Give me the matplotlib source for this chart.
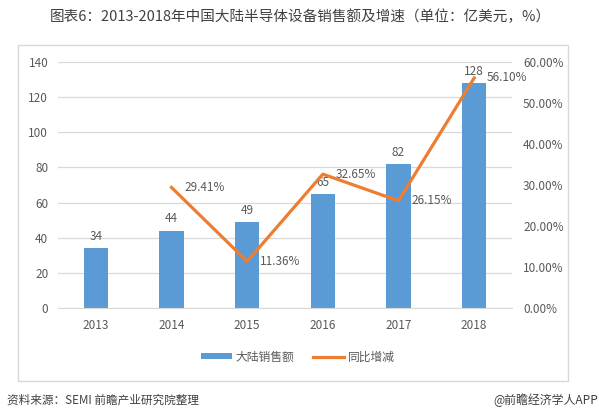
import matplotlib
matplotlib.use("Agg")
import matplotlib.pyplot as plt
from matplotlib.patches import Rectangle
from matplotlib.ticker import FuncFormatter

plt.rcParams['font.family'] = ['Noto Sans CJK SC', 'DejaVu Sans']

years = ['2013', '2014', '2015', '2016', '2017', '2018']
sales = [34, 44, 49, 65, 82, 128]
growth_years = ['2014', '2015', '2016', '2017', '2018']
growth = [29.41, 11.36, 32.65, 26.15, 56.10]

BAR = '#5B9BD5'
LINE = '#ED7D31'
TXT = '#595959'
GRID = '#D9D9D9'

fig = plt.figure(figsize=(5.99, 4.17), dpi=100)
W, H = 599, 417

# chart frame
fig.patches.append(Rectangle((18 / W, 1 - 381 / H), (568 - 18) / W, (381 - 45) / H,
                             transform=fig.transFigure, fill=False,
                             edgecolor='#D9D9D9', linewidth=1.0))

ax = fig.add_axes([58 / W, 1 - 308 / H, (512 - 58) / W, (308 - 62) / H])
x = list(range(len(years)))
bars = ax.bar(x, sales, width=0.32, color=BAR, zorder=2, label='大陆销售额')
ax.set_xlim(-0.5, len(years) - 0.5)
ax.set_ylim(0, 140)
ax.set_yticks(range(0, 141, 20))
ax.set_xticks(x)
ax.set_xticklabels(years)
ax.grid(axis='y', color=GRID, linewidth=0.9, zorder=0)
for s in ax.spines.values():
    s.set_visible(False)
ax.spines['bottom'].set_visible(True)
ax.spines['bottom'].set_color(GRID)
ax.tick_params(length=0, colors=TXT, labelsize=8.5)
ax.tick_params(axis='y', pad=7)
ax.tick_params(axis='x', pad=8)
for xi, v in zip(x, sales):
    ax.text(xi, v + 3, str(v), ha='center', va='bottom', fontsize=8.5, color=TXT)

ax2 = ax.twinx()
gx = [years.index(y) for y in growth_years]
line, = ax2.plot(gx, growth, color=LINE, linewidth=2.3, zorder=3, label='同比增减')
ax2.set_ylim(0, 60)
ax2.set_yticks(range(0, 61, 10))
ax2.yaxis.set_major_formatter(FuncFormatter(lambda v, p: f'{v:.2f}%'))
for s in ax2.spines.values():
    s.set_visible(False)
ax2.tick_params(length=0, colors=TXT, labelsize=8.5, pad=8)
for xi, v in zip(gx, growth):
    ax2.text(xi + 0.17, v, f'{v:.2f}%', ha='left', va='center', fontsize=8.5, color=TXT)

fig.legend(handles=[bars, line], labels=['大陆销售额', '同比增减'], loc='center',
           bbox_to_anchor=(298 / W, 1 - 357 / H), ncol=2, frameon=False,
           fontsize=8.5, handlelength=2.6, handleheight=0.45, columnspacing=1.6,
           labelcolor=TXT, handletextpad=0.3)

fig.text(300 / W, 1 - 17 / H, '图表6：2013-2018年中国大陆半导体设备销售额及增速（单位：亿美元，%）',
         ha='center', va='center', fontsize=10.5, color='#404040')
fig.text(7 / W, 1 - 400 / H, '资料来源：SEMI 前瞻产业研究院整理', ha='left', va='center',
         fontsize=8.4, color='#404040', style='italic')
fig.text(598 / W, 1 - 400 / H, '@前瞻经济学人APP', ha='right', va='center',
         fontsize=8.6, color='#404040')

fig.savefig('out.png', dpi=100)
